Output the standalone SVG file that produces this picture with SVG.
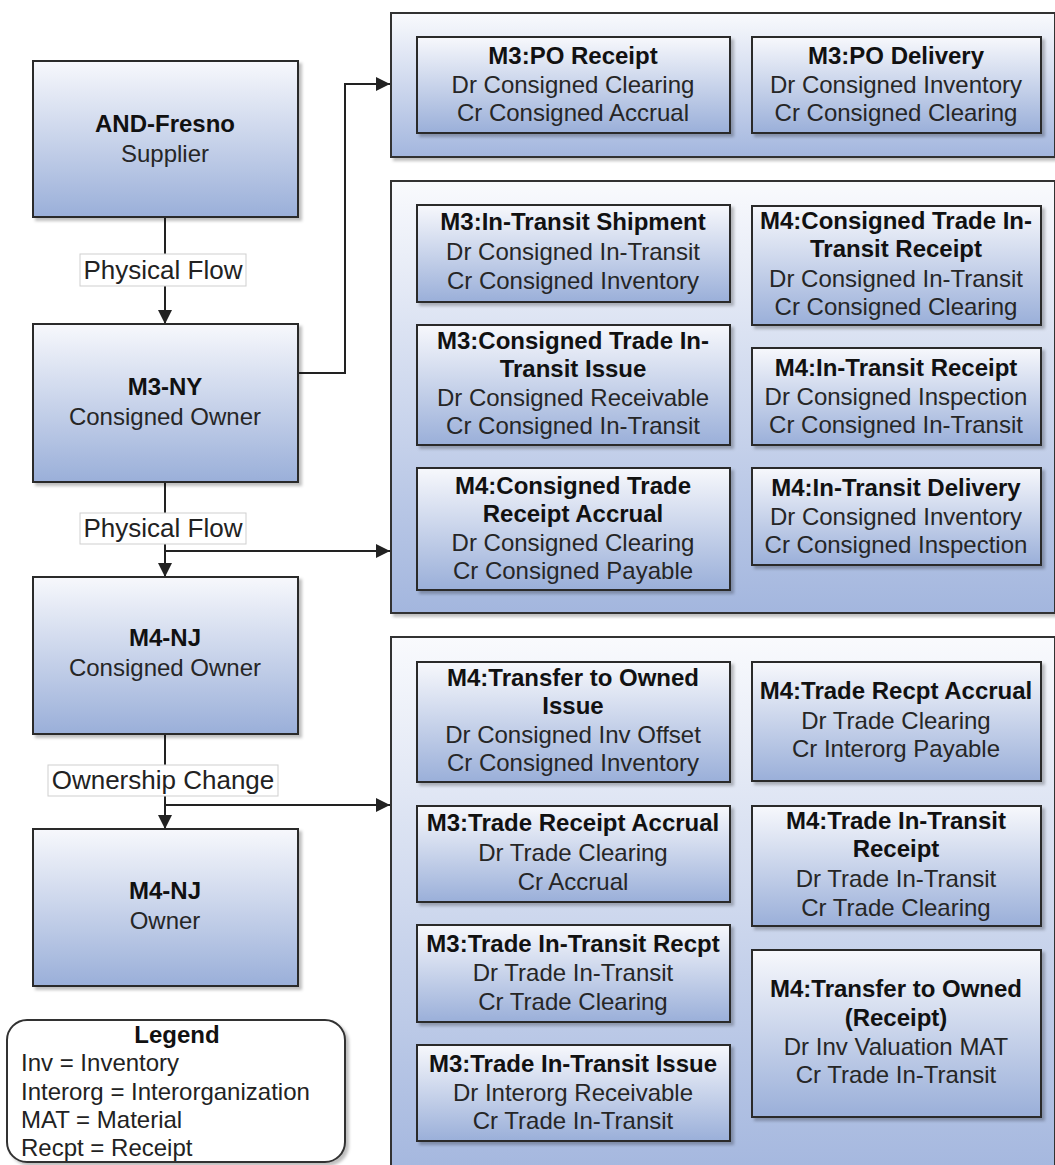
<svg xmlns="http://www.w3.org/2000/svg" width="1055" height="1165" viewBox="0 0 1055 1165">
<style>
.bx{fill:url(#g);stroke:#2a2a2a;stroke-width:2;filter:url(#ds)}
.pn{fill:url(#gp);stroke:#333;stroke-width:2;filter:url(#ds)}
.t{font-family:"Liberation Sans",Arial,sans-serif;font-size:24px;fill:#262626;text-anchor:middle}
.b{font-weight:bold;fill:#111}
.lb{font-family:"Liberation Sans",Arial,sans-serif;font-size:26px;fill:#222;text-anchor:middle}
.lt{font-family:"Liberation Sans",Arial,sans-serif;font-size:24px;fill:#222}
.cn{fill:none;stroke:#222;stroke-width:2}
.lbox{fill:#fff;stroke:#cfcfcf;stroke-width:1}
</style>
<defs>
<linearGradient id="g" x1="0" y1="0" x2="0" y2="1"><stop offset="0" stop-color="#f7f8fc"/><stop offset="1" stop-color="#9aafd9"/></linearGradient>
<linearGradient id="gp" x1="0" y1="0" x2="0" y2="1"><stop offset="0" stop-color="#f9fafd"/><stop offset="1" stop-color="#a3b6de"/></linearGradient>
<filter id="ds" x="-5%" y="-5%" width="115%" height="115%"><feDropShadow dx="3" dy="3" stdDeviation="1.5" flood-color="#000" flood-opacity="0.25"/></filter>
<marker id="ar" markerUnits="userSpaceOnUse" markerWidth="14" markerHeight="14" refX="14" refY="7" orient="auto"><path d="M0,0 L14,7 L0,14 z" fill="#222"/></marker>
</defs>

<g id="panels">
<rect id="panel1" class="pn" x="391" y="13" width="664" height="144"/>
<rect id="panel2" class="pn" x="391" y="181" width="664" height="432"/>
<rect id="panel3" class="pn" x="391" y="637" width="664" height="545"/>
</g>

<g id="connectors">
<line class="cn" x1="165" y1="217" x2="165" y2="324" marker-end="url(#ar)"/>
<polyline class="cn" points="298,373 345,373 345,84 390,84" marker-end="url(#ar)"/>
<line class="cn" x1="165" y1="482" x2="165" y2="577" marker-end="url(#ar)"/>
<line class="cn" x1="165" y1="551" x2="390" y2="551" marker-end="url(#ar)"/>
<line class="cn" x1="165" y1="734" x2="165" y2="829" marker-end="url(#ar)"/>
<line class="cn" x1="165" y1="805" x2="390" y2="805" marker-end="url(#ar)"/>
<rect class="lbox" x="80" y="254" width="166" height="32"/>
<text class="lb" x="163" y="279">Physical Flow</text>
<rect class="lbox" x="80" y="513" width="166" height="31"/>
<text class="lb" x="163" y="537">Physical Flow</text>
<rect class="lbox" x="48" y="765" width="230" height="31"/>
<text class="lb" x="163" y="789">Ownership Change</text>
</g>

<g id="n-fresno"><rect class="bx" x="33" y="61" width="265" height="156"/>
<text class="t b" x="165" y="132">AND-Fresno</text><text class="t" x="165" y="162">Supplier</text></g>
<g id="n-m3ny"><rect class="bx" x="33" y="324" width="265" height="158"/>
<text class="t b" x="165" y="395">M3-NY</text><text class="t" x="165" y="425">Consigned Owner</text></g>
<g id="n-m4nj-c"><rect class="bx" x="33" y="577" width="265" height="157"/>
<text class="t b" x="165" y="646">M4-NJ</text><text class="t" x="165" y="676">Consigned Owner</text></g>
<g id="n-m4nj-o"><rect class="bx" x="33" y="829" width="265" height="157"/>
<text class="t b" x="165" y="899">M4-NJ</text><text class="t" x="165" y="929">Owner</text></g>

<g id="n-po-receipt"><rect class="bx" x="417" y="37" width="313" height="96"/>
<text class="t b" x="573" y="64">M3:PO Receipt</text><text class="t" x="573" y="93">Dr Consigned Clearing</text><text class="t" x="573" y="121">Cr Consigned Accrual</text></g>
<g id="n-po-delivery"><rect class="bx" x="752" y="37" width="289" height="96"/>
<text class="t b" x="896" y="64">M3:PO Delivery</text><text class="t" x="896" y="93">Dr Consigned Inventory</text><text class="t" x="896" y="121">Cr Consigned Clearing</text></g>

<g id="n-it-ship"><rect class="bx" x="417" y="205" width="313" height="97"/>
<text class="t b" x="573" y="230">M3:In-Transit Shipment</text><text class="t" x="573" y="260">Dr Consigned In-Transit</text><text class="t" x="573" y="289">Cr Consigned Inventory</text></g>
<g id="n-ct-issue"><rect class="bx" x="417" y="325" width="313" height="120"/>
<text class="t b" x="573" y="349">M3:Consigned Trade In-</text><text class="t b" x="573" y="377">Transit Issue</text><text class="t" x="573" y="406">Dr Consigned Receivable</text><text class="t" x="573" y="434">Cr Consigned In-Transit</text></g>
<g id="n-ct-accrual"><rect class="bx" x="417" y="468" width="313" height="122"/>
<text class="t b" x="573" y="494">M4:Consigned Trade</text><text class="t b" x="573" y="522">Receipt Accrual</text><text class="t" x="573" y="551">Dr Consigned Clearing</text><text class="t" x="573" y="579">Cr Consigned Payable</text></g>
<g id="n-ct-receipt"><rect class="bx" x="752" y="206" width="289" height="119"/>
<text class="t b" x="896" y="229">M4:Consigned Trade In-</text><text class="t b" x="896" y="257">Transit Receipt</text><text class="t" x="896" y="287">Dr Consigned In-Transit</text><text class="t" x="896" y="315">Cr Consigned Clearing</text></g>
<g id="n-it-receipt"><rect class="bx" x="752" y="348" width="289" height="97"/>
<text class="t b" x="896" y="376">M4:In-Transit Receipt</text><text class="t" x="896" y="405">Dr Consigned Inspection</text><text class="t" x="896" y="433">Cr Consigned In-Transit</text></g>
<g id="n-it-delivery"><rect class="bx" x="752" y="468" width="289" height="97"/>
<text class="t b" x="896" y="496">M4:In-Transit Delivery</text><text class="t" x="896" y="525">Dr Consigned Inventory</text><text class="t" x="896" y="553">Cr Consigned Inspection</text></g>

<g id="n-tto-issue"><rect class="bx" x="417" y="662" width="313" height="120"/>
<text class="t b" x="573" y="686">M4:Transfer to Owned</text><text class="t b" x="573" y="714">Issue</text><text class="t" x="573" y="743">Dr Consigned Inv Offset</text><text class="t" x="573" y="771">Cr Consigned Inventory</text></g>
<g id="n-tr-accrual"><rect class="bx" x="417" y="806" width="313" height="96"/>
<text class="t b" x="573" y="831">M3:Trade Receipt Accrual</text><text class="t" x="573" y="861">Dr Trade Clearing</text><text class="t" x="573" y="890">Cr Accrual</text></g>
<g id="n-tit-recpt"><rect class="bx" x="417" y="925" width="313" height="97"/>
<text class="t b" x="573" y="952">M3:Trade In-Transit Recpt</text><text class="t" x="573" y="981">Dr Trade In-Transit</text><text class="t" x="573" y="1010">Cr Trade Clearing</text></g>
<g id="n-tit-issue"><rect class="bx" x="417" y="1045" width="313" height="96"/>
<text class="t b" x="573" y="1072">M3:Trade In-Transit Issue</text><text class="t" x="573" y="1101">Dr Interorg Receivable</text><text class="t" x="573" y="1129">Cr Trade In-Transit</text></g>
<g id="n-trecpt-accrual"><rect class="bx" x="752" y="662" width="289" height="119"/>
<text class="t b" x="896" y="699">M4:Trade Recpt Accrual</text><text class="t" x="896" y="729">Dr Trade Clearing</text><text class="t" x="896" y="757">Cr Interorg Payable</text></g>
<g id="n-tit-receipt"><rect class="bx" x="752" y="806" width="289" height="120"/>
<text class="t b" x="896" y="829">M4:Trade In-Transit</text><text class="t b" x="896" y="857">Receipt</text><text class="t" x="896" y="887">Dr Trade In-Transit</text><text class="t" x="896" y="916">Cr Trade Clearing</text></g>
<g id="n-tto-receipt"><rect class="bx" x="752" y="950" width="289" height="167"/>
<text class="t b" x="896" y="997">M4:Transfer to Owned</text><text class="t b" x="896" y="1026">(Receipt)</text><text class="t" x="896" y="1055">Dr Inv Valuation MAT</text><text class="t" x="896" y="1083">Cr Trade In-Transit</text></g>

<g id="legend"><rect x="7" y="1020" width="338" height="142" rx="20" ry="20" fill="#fff" stroke="#333" stroke-width="2" filter="url(#ds)"/>
<text class="t b" x="177" y="1043">Legend</text>
<text class="lt" x="21" y="1071">Inv = Inventory</text>
<text class="lt" x="21" y="1100">Interorg = Interorganization</text>
<text class="lt" x="21" y="1128">MAT = Material</text>
<text class="lt" x="21" y="1156">Recpt = Receipt</text></g>
</svg>
